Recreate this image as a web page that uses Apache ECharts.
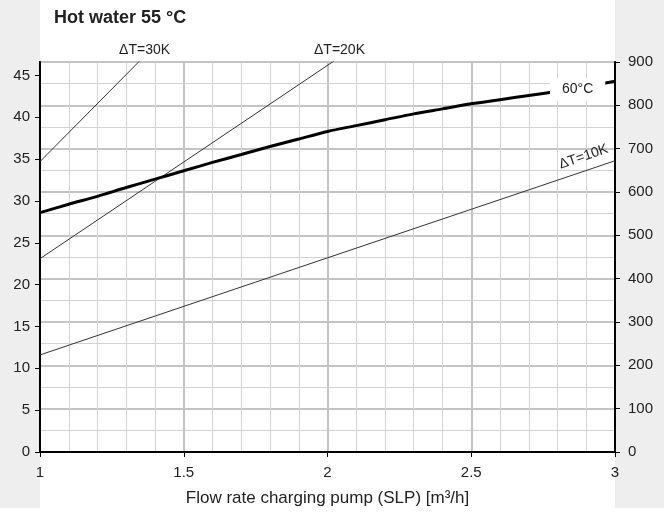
<!DOCTYPE html>
<html><head><meta charset="utf-8">
<script src="https://cdn.jsdelivr.net/npm/echarts@6/dist/echarts.min.js"></script>
<style>html,body{margin:0;padding:0;background:#fff}#c{width:664px;height:513px}</style>
</head><body><div id="c"></div>
<script>
// Data (left axis units)
const flow = [1.0, 1.1, 1.2, 1.3, 1.4, 1.5, 1.6, 1.7, 1.8, 1.9, 2.0, 2.1, 2.2, 2.3, 2.4, 2.5, 2.6, 2.7, 2.8, 2.9, 3.0];
const curve60 = [28.6, 29.6, 30.55, 31.6, 32.6, 33.6, 34.6, 35.55, 36.5, 37.4, 38.3, 39.0, 39.7, 40.4, 41.0, 41.6, 42.1, 42.6, 43.1, 43.65, 44.3];
const lineFlow = [1, 3];
const dT10 = [11.6, 34.8];
const dT20 = [23.1, 69.3];
const dT30 = [34.7, 104.1];
const xTicks = [1, 1.5, 2, 2.5, 3];
const leftMax = 46.6;
const rightMax = 900;
const labels = { t30: 'ΔT=30K', t20: 'ΔT=20K', t10: 'ΔT=10K', c60: '60°C' };

const pairs = (xs, ys) => xs.map((x, i) => [x, ys[i]]);
const font = 'Liberation Sans, Arial, sans-serif';
const chart = echarts.init(document.getElementById('c'));
const thin = { color: '#333', width: 1 };

chart.setOption({
  animation: false,
  backgroundColor: '#fff',
  title: { text: 'Hot water 55 °C', left: 54, top: 9, padding: 0,
    textStyle: { fontFamily: font, fontSize: 18, fontWeight: 'bold', color: '#222' } },
  graphic: [
    { type: 'rect', z: -100, shape: { x: 0, y: 0, width: 40, height: 508 }, style: { fill: '#eeeeee' } },
    { type: 'rect', z: -100, shape: { x: 615, y: 0, width: 49, height: 508 }, style: { fill: '#eeeeee' } }
  ],
  grid: { left: 40, right: 49, top: 62, bottom: 61, show: true, borderColor: '#000', borderWidth: 1.5, backgroundColor: 'transparent' },
  xAxis: {
    type: 'value', min: 1, max: 3, interval: 0.5,
    axisLine: { show: true, onZero: false, lineStyle: { color: '#000', width: 2 } },
    axisTick: { show: true, length: 5, lineStyle: { color: '#000' } },
    axisLabel: { fontFamily: font, fontSize: 15, color: '#222', margin: 13,
      formatter: v => xTicks.includes(+v.toFixed(2)) ? String(+v.toFixed(2)) : '' },
    splitLine: { show: true, lineStyle: { color: '#c4c4c4', width: 2 } },
    minorTick: { show: false, splitNumber: 5 },
    minorSplitLine: { show: true, lineStyle: { color: '#d2d2d2', width: 1 } },
    name: 'Flow rate charging pump (SLP) [m³/h]', nameLocation: 'middle', nameGap: 38,
    nameTextStyle: { fontFamily: font, fontSize: 17, color: '#222' }
  },
  yAxis: [
    { type: 'value', min: 0, max: leftMax, interval: 5, position: 'left',
      axisLine: { show: true, lineStyle: { color: '#000', width: 2 } },
      axisTick: { show: true, length: 5, lineStyle: { color: '#000' } },
      axisLabel: { fontFamily: font, fontSize: 15, color: '#222', margin: 10, showMaxLabel: false },
      splitLine: { show: false } },
    { type: 'value', min: 0, max: rightMax, interval: 100, position: 'right',
      axisLine: { show: true, lineStyle: { color: '#000', width: 2 } },
      axisTick: { show: true, length: 5, lineStyle: { color: '#000' } },
      axisLabel: { fontFamily: font, fontSize: 15, color: '#222', margin: 13 },
      splitLine: { show: true, lineStyle: { color: '#c4c4c4', width: 2 } },
      minorTick: { show: false, splitNumber: 2 },
      minorSplitLine: { show: true, lineStyle: { color: '#d2d2d2', width: 1 } } }
  ],
  series: [
    { type: 'line', yAxisIndex: 0, data: pairs(lineFlow, dT10), symbol: 'none', lineStyle: thin, z: 3,
      markPoint: { symbol: 'circle', symbolSize: 0, data: [{ coord: [2.9, 33.6],
        label: { show: true, formatter: labels.t10, rotate: 19, offset: [2, -14], fontFamily: font, fontSize: 14, color: '#222' } }] } },
    { type: 'line', yAxisIndex: 0, data: pairs(lineFlow, dT20), symbol: 'none', lineStyle: thin, z: 3,
      markPoint: { symbol: 'circle', symbolSize: 0, data: [{ coord: [leftMax / dT20[0], leftMax],
        label: { show: true, position: 'top', distance: 5, offset: [7, 0], formatter: labels.t20, fontFamily: font, fontSize: 14, color: '#222' } }] } },
    { type: 'line', yAxisIndex: 0, data: pairs(lineFlow, dT30), symbol: 'none', lineStyle: thin, z: 3,
      markPoint: { symbol: 'circle', symbolSize: 0, data: [{ coord: [leftMax / dT30[0], leftMax],
        label: { show: true, position: 'top', distance: 5, offset: [6, 0], formatter: labels.t30, fontFamily: font, fontSize: 14, color: '#222' } }] } },
    { type: 'line', yAxisIndex: 0, data: pairs(flow, curve60), symbol: 'none', smooth: 0.3,
      lineStyle: { color: '#000', width: 3 }, z: 4,
      markPoint: { symbol: 'circle', symbolSize: 0, z: 10, data: [{ coord: [2.87, 43.55],
        label: { show: true, position: 'inside', offset: [0, 2], formatter: labels.c60, fontFamily: font, fontSize: 14, color: '#222',
          backgroundColor: '#fff', padding: [5, 12, 4, 12] } }] } }
  ]
});
</script>
</body></html>
